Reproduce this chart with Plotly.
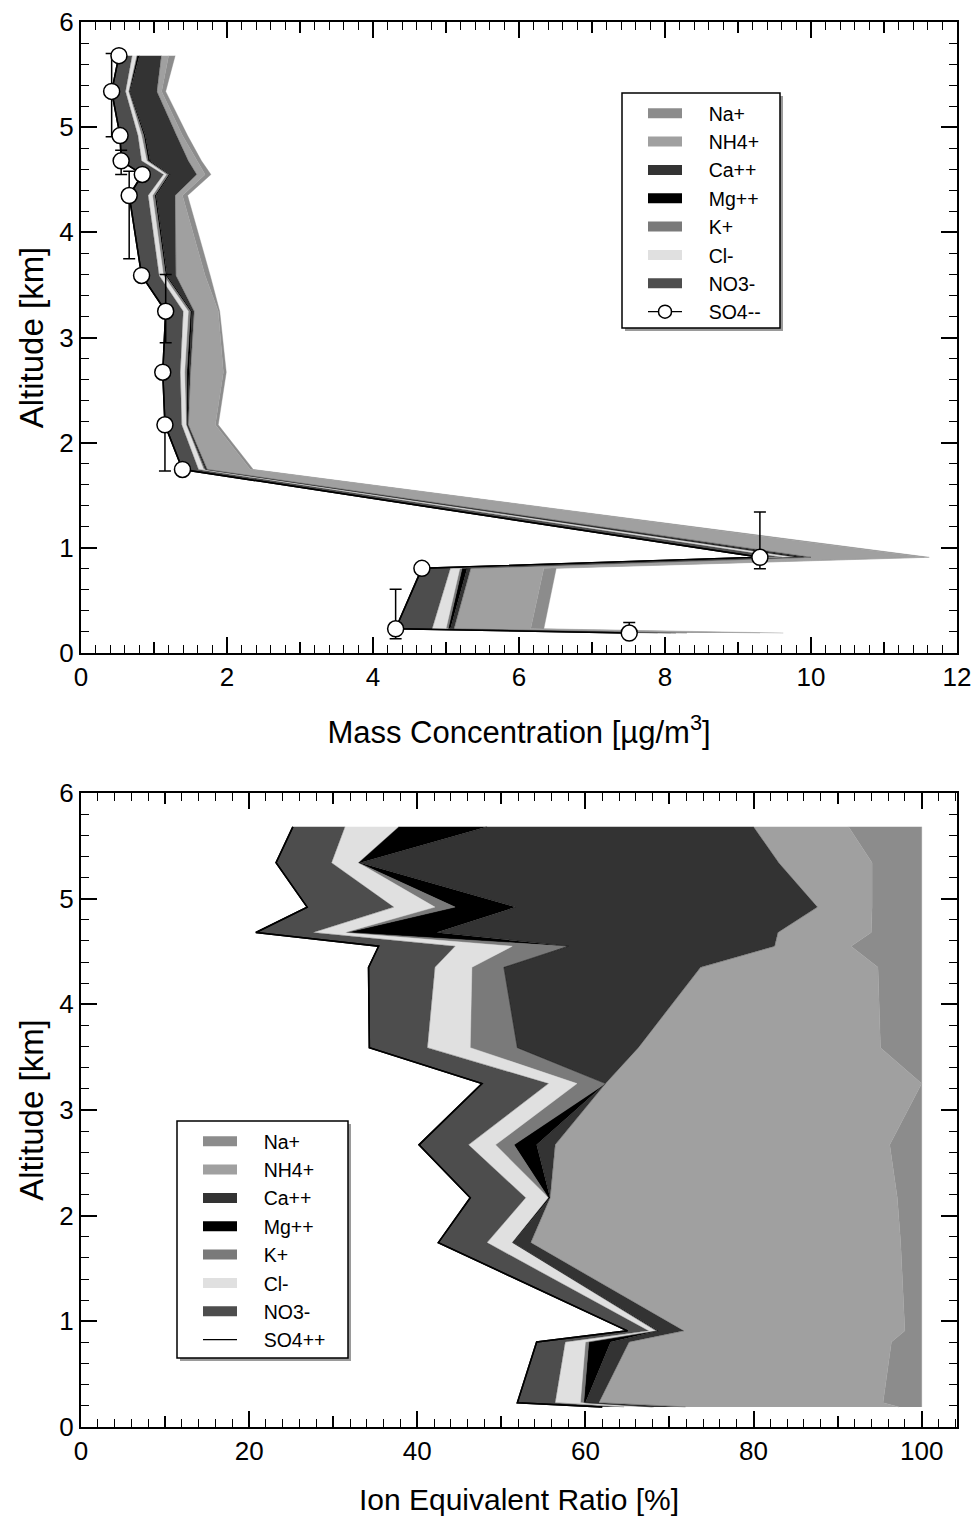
import numpy as np
import plotly.graph_objects as go

# ---------------- data ----------------
altitude = [5.68, 5.34, 4.92, 4.68, 4.55, 4.35, 3.59, 3.25, 2.67, 2.17, 1.745, 0.91, 0.805, 0.23, 0.19]

# Mass concentration [ug/m3] per species
so4_mass = [0.52, 0.42, 0.535, 0.55, 0.84, 0.66, 0.83, 1.16, 1.12, 1.15, 1.39, 9.30, 4.67, 4.31, 7.51]
no3_mass = [0.18, 0.19, 0.245, 0.28, 0.29, 0.26, 0.24, 0.24, 0.24, 0.23, 0.22, 0.30, 0.39, 0.50, 0.39]
cl_mass = [0.06, 0.04, 0.05, 0.07, 0.04, 0.06, 0.06, 0.07, 0.06, 0.06, 0.07, 0.15, 0.13, 0.19, 0.15]
k_mass = [0.01, 0.01, 0.03, 0.02, 0.03, 0.03, 0.03, 0.03, 0.03, 0.01, 0.02, 0.05, 0.03, 0.03, 0.03]
mg_mass = [0.03, 0.01, 0.02, 0.025, 0.02, 0.02, 0.02, 0.02, 0.03, 0.01, 0.01, 0.10, 0.07, 0.03, 0.07]
ca_mass = [0.30, 0.37, 0.43, 0.525, 0.365, 0.26, 0.12, 0.03, 0.02, 0.01, 0.02, 0.10, 0.05, 0.05, 0.15]
nh4_mass = [0.10, 0.065, 0.08, 0.115, 0.115, 0.10, 0.40, 0.33, 0.45, 0.37, 0.59, 1.55, 1.00, 1.05, 1.00]
na_mass = [0.09, 0.055, 0.07, 0.065, 0.08, 0.07, 0.07, 0.02, 0.04, 0.04, 0.04, 0.07, 0.17, 0.18, 0.32]

# altitude range of each SO4 sample (error bars)
alt_err_plus = [0.0, 0.36, 0.0, 0.10, 0.0, 0.23, 0.0, 0.35, 0.02, 0.0, 0.0, 0.43, 0.0, 0.375, 0.10]
alt_err_minus = [0.0, 0.43, 0.0, 0.13, 0.0, 0.60, 0.0, 0.30, 0.02, 0.44, 0.0, 0.11, 0.0, 0.094, 0.0]

# Ion equivalent ratio [%] per species
so4_pct = [25.2, 23.2, 26.9, 20.8, 35.4, 34.2, 34.3, 47.7, 40.2, 46.3, 42.5, 65.0, 54.2, 51.9, 62.0]
no3_pct = [6.2, 6.6, 10.3, 6.8, 9.1, 7.9, 6.9, 7.9, 5.9, 6.6, 5.8, 2.5, 3.4, 4.5, 2.6]
cl_pct = [6.4, 3.2, 4.9, 3.8, 6.8, 4.4, 5.1, 3.4, 3.2, 2.7, 3.0, 0.8, 2.4, 3.0, 3.1]
k_pct = [0.0, 0.0, 2.4, 0.2, 6.5, 3.8, 5.6, 3.4, 2.2, 0.0, 0.0, 0.2, 0.4, 0.4, 0.2]
mg_pct = [10.5, 0.2, 7.2, 10.7, 0.2, 0.0, 0.0, 0.0, 2.7, 0.2, 0.1, 0.2, 2.6, 0.2, 0.2]
ca_pct = [31.7, 49.8, 35.9, 40.6, 24.5, 23.4, 14.4, 0.0, 2.2, 0.0, 2.1, 3.0, 2.2, 1.6, 3.8]
nh4_pct = [11.3, 11.1, 6.5, 11.1, 9.1, 21.1, 28.8, 37.6, 39.8, 41.3, 44.0, 26.3, 31.2, 33.8, 25.4]
na_pct = [8.7, 5.9, 5.9, 6.0, 8.4, 5.2, 4.9, 0.0, 3.8, 2.9, 2.5, 2.0, 3.6, 4.6, 2.7]

stack_names = ["NO3-", "Cl-", "K+", "Mg++", "Ca++", "NH4+", "Na+"]
stack_colors = ["#4d4d4d", "#e0e0e0", "#7a7a7a", "#000000", "#333333", "#a0a0a0", "#8c8c8c"]
legend_names = ["Na+", "NH4+", "Ca++", "Mg++", "K+", "Cl-", "NO3-"]

mass_layers = [no3_mass, cl_mass, k_mass, mg_mass, ca_mass, nh4_mass, na_mass]
pct_layers = [no3_pct, cl_pct, k_pct, mg_pct, ca_pct, nh4_pct, na_pct]

FONT = "Liberation Sans, Arial, Helvetica, sans-serif"
color_of = dict(zip(stack_names, stack_colors))
NB = "\u00a0" * 4  # gap between legend symbol and text

# figure geometry (pixels)
W, H = 975, 1524
ML, MR, MT, MB = 81, 18, 22, 97
PW, PH = W - ML - MR, H - MT - MB


def px_x(p):
    return (p - ML) / PW


def px_y(p):
    return (H - MB - p) / PH


fig = go.Figure()


def add_stack(base, layers, xa, ya):
    cum = np.array(base, dtype=float)
    fig.add_trace(go.Scatter(x=cum.tolist(), y=altitude, mode="lines",
                             line=dict(color="black", width=1.5),
                             xaxis=xa, yaxis=ya, showlegend=False, hoverinfo="skip"))
    for name, col, vals in zip(stack_names, stack_colors, layers):
        cum = cum + np.array(vals, dtype=float)
        fig.add_trace(go.Scatter(x=cum.tolist(), y=altitude, mode="lines",
                                 line=dict(color=col, width=0.4),
                                 fill="tonextx", fillcolor=col,
                                 xaxis=xa, yaxis=ya, showlegend=False, hoverinfo="skip"))


# ---- top panel ----
add_stack(so4_mass, mass_layers, "x", "y")
fig.add_trace(go.Scatter(x=so4_mass, y=altitude, mode="lines+markers",
                         line=dict(color="black", width=1.5),
                         marker=dict(size=16, color="white", line=dict(color="black", width=1.5)),
                         error_y=dict(type="data", symmetric=False, array=alt_err_plus,
                                      arrayminus=alt_err_minus, color="black", thickness=1.5, width=6),
                         xaxis="x", yaxis="y", showlegend=False, hoverinfo="skip"))

# ---- bottom panel ----
add_stack(so4_pct, pct_layers, "x2", "y2")
fig.add_trace(go.Scatter(x=so4_pct, y=altitude, mode="lines",
                         line=dict(color="black", width=1.5),
                         xaxis="x2", yaxis="y2", showlegend=False, hoverinfo="skip"))

# dummy traces to activate overlay tick axes
fig.add_trace(go.Scatter(x=[None], y=[None], xaxis="x3", yaxis="y", showlegend=False, hoverinfo="skip"))
fig.add_trace(go.Scatter(x=[None], y=[None], xaxis="x4", yaxis="y2", showlegend=False, hoverinfo="skip"))

# ---- legend entries ----
for lg, xa, ya, so4name, with_marker in [("legend", "x", "y", "SO4--", True),
                                          ("legend2", "x2", "y2", "SO4++", False)]:
    for nm in legend_names:
        fig.add_trace(go.Scatter(x=[None], y=[None], mode="lines", name=NB + nm,
                                 line=dict(color=color_of[nm], width=13),
                                 legend=lg, xaxis=xa, yaxis=ya))
    if with_marker:
        fig.add_trace(go.Scatter(x=[None], y=[None], mode="lines+markers", name=NB + so4name,
                                 line=dict(color="black", width=1.2),
                                 marker=dict(size=13, color="white", line=dict(color="black", width=1.5)),
                                 legend=lg, xaxis=xa, yaxis=ya))
    else:
        fig.add_trace(go.Scatter(x=[None], y=[None], mode="lines", name=NB + so4name,
                                 line=dict(color="black", width=1.2),
                                 legend=lg, xaxis=xa, yaxis=ya))

axis_common = dict(showgrid=False, zeroline=False, showline=True, linecolor="black", linewidth=2,
                   mirror="ticks", ticks="inside", ticklen=16, tickwidth=1.5, tickcolor="black",
                   automargin=False,
                   tickfont=dict(family=FONT, size=26, color="black"))
overlay_common = dict(showgrid=False, zeroline=False, showline=False, mirror="ticks",
                      ticks="inside", ticklen=11, tickwidth=1.5, tickcolor="black",
                      showticklabels=False, automargin=False)
minor_common = dict(ticks="inside", ticklen=8, tickwidth=1.2, tickcolor="black")

TOP_DOMAIN = [px_y(653), 1.0]
BOT_DOMAIN = [0.0, px_y(793)]

# legend boxes with drop shadow (decoration)
shapes = []
for (x0, y0, x1, y1) in [(622, 93, 780, 328), (177, 1121, 348, 1358)]:
    shapes.append(dict(type="rect", xref="paper", yref="paper", layer="above",
                       x0=px_x(x0 + 3), x1=px_x(x1 + 3), y0=px_y(y1 + 3), y1=px_y(y0 + 3),
                       fillcolor="#9a9a9a", line=dict(width=0)))
    shapes.append(dict(type="rect", xref="paper", yref="paper", layer="above",
                       x0=px_x(x0), x1=px_x(x1), y0=px_y(y1), y1=px_y(y0),
                       fillcolor="white", line=dict(color="black", width=1.5)))

legend_common = dict(xanchor="left", yanchor="top", bgcolor="rgba(0,0,0,0)", borderwidth=0,
                     traceorder="normal",
                     font=dict(family=FONT, size=19.5, color="black"), itemwidth=34)

fig.update_layout(
    width=W, height=H,
    margin=dict(l=ML, r=MR, t=MT, b=MB),
    paper_bgcolor="white", plot_bgcolor="white",
    font=dict(family=FONT, color="black"),
    shapes=shapes,
    xaxis=dict(domain=[0, 1], anchor="y", range=[0, 12], tickvals=list(range(0, 13, 2)),
               minor=dict(dtick=0.2, **minor_common),
               title=dict(text="Mass Concentration [µg/m<sup>3</sup>]",
                          font=dict(family=FONT, size=31), standoff=30),
               **axis_common),
    xaxis3=dict(overlaying="x", anchor="y", side="bottom", range=[0, 12],
                tickvals=[1, 3, 5, 7, 9, 11], **overlay_common),
    yaxis=dict(domain=TOP_DOMAIN, anchor="x", range=[0, 6], dtick=1,
               minor=dict(dtick=0.2, **minor_common),
               title=dict(text="Altitude [km]", font=dict(family=FONT, size=33), standoff=6),
               **axis_common),
    xaxis2=dict(domain=[0, 1], anchor="y2", range=[0, 104.2], tickvals=list(range(0, 101, 20)),
                minor=dict(dtick=2, **minor_common),
                title=dict(text="Ion Equivalent Ratio [%]",
                           font=dict(family=FONT, size=30), standoff=24),
                **axis_common),
    xaxis4=dict(overlaying="x2", anchor="y2", side="bottom", range=[0, 104.2],
                tickvals=[10, 30, 50, 70, 90], **overlay_common),
    yaxis2=dict(domain=BOT_DOMAIN, anchor="x2", range=[0, 6], dtick=1,
                minor=dict(dtick=0.2, **minor_common),
                title=dict(text="Altitude [km]", font=dict(family=FONT, size=33), standoff=6),
                **axis_common),
    legend=dict(x=px_x(643), y=px_y(94), **legend_common),
    legend2=dict(x=px_x(198), y=px_y(1122), **legend_common),
    showlegend=True,
)

fig.write_html("out.html")
